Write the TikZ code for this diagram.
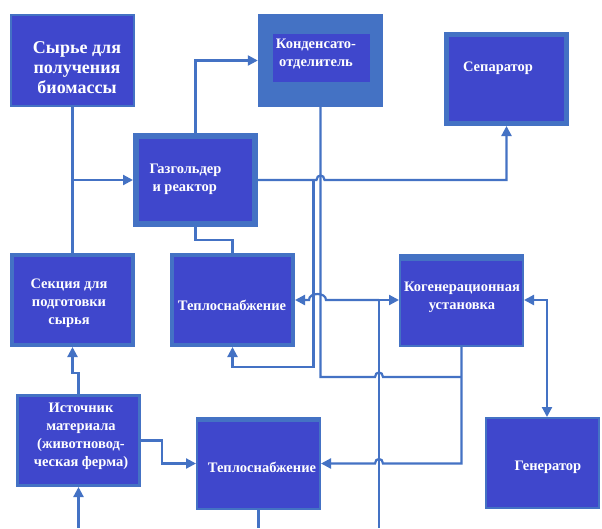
\documentclass[tikz,border=0pt]{standalone}
\usepackage{fontspec}
\setmainfont{Liberation Serif}
\usetikzlibrary{arrows.meta}
\definecolor{boxfill}{HTML}{3F47CC}
\definecolor{edge}{HTML}{4472C4}
\begin{document}
\begin{tikzpicture}[x=1pt,y=-1pt,
  blk/.style={fill=boxfill, draw=edge, inner sep=0pt},
  lbl/.style={text=white, font=\rmfamily\bfseries\fontsize{14.5}{18}\selectfont, align=center, inner sep=0pt},
  wire/.style={draw=edge, line width=2.2pt},
  arr/.style={wire, -{Triangle[length=10pt,width=10pt]}},
  dbl/.style={wire, {Triangle[length=10pt,width=10pt]}-{Triangle[length=10pt,width=10pt]}},
  ]
\useasboundingbox (0,0) rectangle (602,528);
\fill[white] (0,0) rectangle (602,528);

% process blocks
\node[blk, line width=2pt, minimum width=123pt, minimum height=91pt] (syr) at (72.5,60.5) {};
\node[fill=edge, inner sep=0pt, minimum width=125pt, minimum height=93pt] (kond) at (320.5,60.5) {};
\fill[boxfill] (273,34) rectangle (370,82);
\node[blk, line width=5pt, minimum width=120pt, minimum height=89pt] (sep) at (506.5,79) {};
\node[blk, line width=6pt, minimum width=119pt, minimum height=88pt] (gaz) at (195.5,180) {};
\node[blk, line width=4pt, minimum width=121pt, minimum height=90pt] (sek) at (72.5,300) {};
\node[blk, line width=4pt, minimum width=121pt, minimum height=90pt] (tep1) at (232.5,300) {};
\node[blk, line width=2pt, minimum width=123pt, minimum height=91pt] (kog) at (461.5,300) {};
\fill[edge] (399,253.5) rectangle (524,260.5);
\node[blk, line width=3pt, minimum width=122pt, minimum height=90pt] (ist) at (78.5,440.5) {};
\node[blk, line width=2pt, minimum width=123pt, minimum height=91pt] (tep2) at (258.5,463.5) {};
\fill[edge] (196,417) rectangle (321,422);
\node[blk, line width=2pt, minimum width=113pt, minimum height=90pt] (gen) at (542.5,463) {};

% labels
\node[lbl, font=\rmfamily\bfseries\fontsize{18}{20}\selectfont] (tsyr) at (77,68) {Сырье для\\получения\\биомассы};
\node[lbl] (tkond) at (316,54) {Конденсато-\\отделитель};
\node[lbl, align=left] (tgaz) at (185.5,179) {Газгольдер\\\hspace{3pt}и реактор};
\node[lbl] (tsep) at (498,68) {Сепаратор};
\node[lbl] (tsek) at (69,303) {Секция для\\подготовки\\сырья};
\node[lbl] (ttep1) at (232,305) {Теплоснабжение};
\node[lbl] (tkog) at (462,297) {Когенерационная\\установка};
\node[lbl] (tist) at (81,436) {Источник\\материала\\(животновод-\\ческая ферма)};
\node[lbl] (ttep2) at (262,467) {Теплоснабжение};
\node[lbl] (tgen) at (548,467) {Генератор};

% connectors
\coordinate (j1) at (72.5,180);
\draw[wire] (syr.south) -- (sek.north);
\draw[arr] (j1) -- (gaz.west);
\draw[arr] (gaz.north) |- (kond.west);
\draw[wire] (gaz.south) -- (195.5,240) -| (tep1.north);
\draw[arr] (gaz.east) -- (316.5,180) .. controls (316.5,174) and (324.5,174) .. (324.5,180) -| (sep.south);
\draw[arr] (313.5,180) -- (313.5,367) -| (tep1.south);
\draw[wire] (kond.south) -- (320.5,377) -- (375,377) .. controls (375,371) and (383,371) .. (383,377) -- (461.5,377);
\draw[arr] (kog.south) -- (461.5,463.5) -- (383,463.5) .. controls (383,457.5) and (375,457.5) .. (375,463.5) -- (tep2.east);
\coordinate (feed) at (379,528);
\coordinate (split) at (379,300);
\draw[wire] (feed) -- (split);
\draw[arr] (split) -- (326,300) .. controls (326,292) and (309,292) .. (309,300) -- (tep1.east);
\draw[arr] (split) -- (kog.west);
\draw[dbl] (kog.east) -| ([xshift=4.5pt]gen.north);
\draw[arr] (ist.north) -- (78.5,373) -- (72.5,373) -- (sek.south);
\draw[arr] (ist.east) -- (162,440.5) |- (tep2.west);
\coordinate (src) at (78.5,528);
\draw[arr] (src) -- (ist.south);
\coordinate (sink) at (258.5,528);
\draw[wire] (tep2.south) -- (sink);
\end{tikzpicture}
\end{document}
